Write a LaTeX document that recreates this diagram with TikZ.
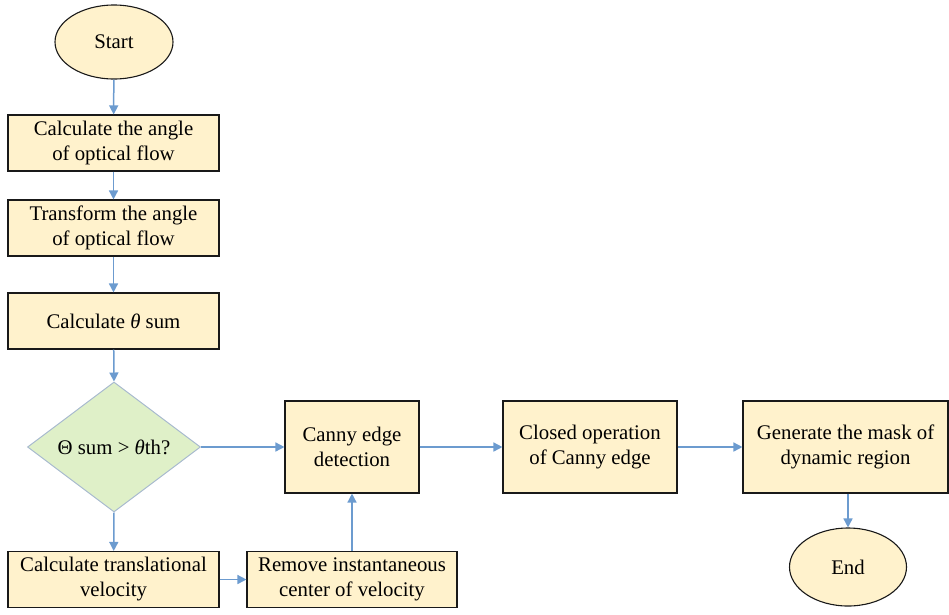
\documentclass[tikz,border=0pt]{standalone}
\usepackage{fontspec}
\setmainfont{Liberation Serif}
\usetikzlibrary{shapes.geometric,arrows.meta}
\definecolor{boxfill}{HTML}{FFF2CC}
\definecolor{diafill}{HTML}{DFF0C8}
\definecolor{diaedge}{HTML}{A9BBCF}
\definecolor{arrowc}{HTML}{6C9BCF}
\tikzset{
  txt/.style={font=\fontsize{20.8}{25}\selectfont},
  stepbox/.style={txt, draw=black!90, fill=boxfill, line width=1.1pt, align=center, inner sep=0pt},
  term/.style={txt, ellipse, draw=black!90, fill=boxfill, line width=1.1pt, inner sep=0pt},
  dia/.style={diamond, draw=diaedge, fill=diafill, line width=1pt, inner sep=0pt,
    minimum width=173pt, minimum height=130pt},
  flow/.style={draw=arrowc, line width=1.5pt, -{Triangle[length=9pt,width=9pt]}}
}
\begin{document}
\begin{tikzpicture}[x=1pt,y=-1pt]
\useasboundingbox (0,0) rectangle (949,614);
\node[term, minimum width=118pt, minimum height=74pt] (start) at (114,42) {Start};
\node[stepbox, minimum width=211pt, minimum height=56pt] (b1) at (113.5,143) {Calculate the angle\\of optical flow};
\node[stepbox, minimum width=211pt, minimum height=56pt] (b2) at (113.5,228) {Transform the angle\\of optical flow};
\node[stepbox, minimum width=211pt, minimum height=56pt] (b3) at (113.5,321) {Calculate \textit{θ} sum};
\node[dia] (d) at (114,447) {};
\node[txt] (dt) at (d) {Θ sum > \textit{θ}th?};
\node[stepbox, minimum width=211pt, minimum height=56pt] (b4) at (113.5,579.5) {Calculate translational\\velocity};
\node[stepbox, minimum width=210pt, minimum height=56pt] (b5) at (352,579.5) {Remove instantaneous\\center of velocity};
\node[stepbox, minimum width=134pt, minimum height=92pt] (c1) at (352,447) {Canny edge\\detection};
\node[stepbox, minimum width=174pt, minimum height=92pt] (c2) at (590,447) {Closed operation\\of Canny edge};
\node[stepbox, minimum width=205pt, minimum height=92pt] (c3) at (845.5,447) {Generate the mask of\\dynamic region};
\node[term, minimum width=117pt, minimum height=78pt] (end) at (848,567) {End};

\draw[flow] (start) -- (b1);
\draw[flow] (b1) -- (b2);
\draw[flow] (b2) -- (b3);
\draw[flow] (b3) -- (d.north);
\draw[flow] (d.east) -- (c1.west);
\draw[flow] (d.south) -- (b4);
\draw[flow] (b4.east) -- (b5.west);
\draw[flow] (b5) -- (c1);
\draw[flow] (c1) -- (c2);
\draw[flow] (c2) -- (c3);
\draw[flow] (c3.south -| end.north) -- (end.north);
\end{tikzpicture}
\end{document}
